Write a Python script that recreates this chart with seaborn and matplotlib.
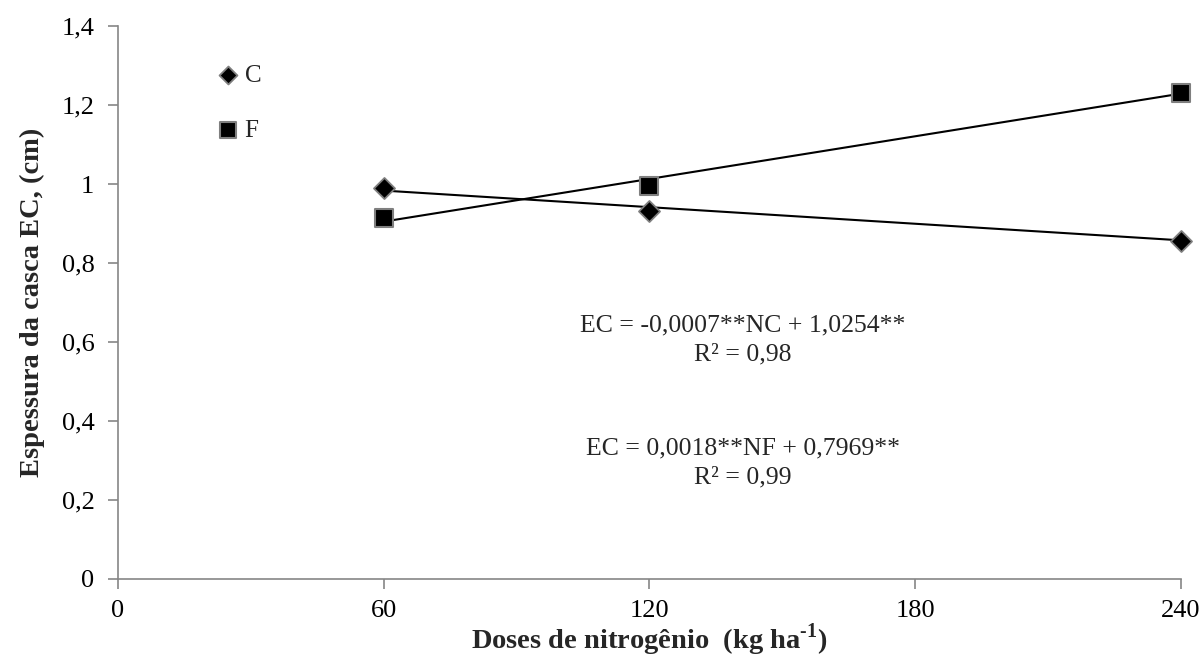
import numpy as np
import pandas as pd
import matplotlib
matplotlib.use("Agg")
import matplotlib.pyplot as plt
import seaborn as sns

# Nitrogen doses (kg/ha) and measured shell thickness for each source
doses = [60, 120, 240]
ec_c = [0.99, 0.932, 0.856]
ec_f = [0.914, 0.995, 1.230]

# Linear trend coefficients (slope, intercept)
coef_c = (-0.0007, 1.0254)
coef_f = (0.0018, 0.7969)

x_ticks = [0, 60, 120, 180, 240]
y_ticks = [0, 0.2, 0.4, 0.6, 0.8, 1.0, 1.2, 1.4]
y_labels = ["0", "0,2", "0,4", "0,6", "0,8", "1", "1,2", "1,4"]

sns.set_theme(style="white")
plt.rcParams["font.family"] = ["Liberation Serif", "DejaVu Serif"]
plt.rcParams["mathtext.fontset"] = "custom"
plt.rcParams["mathtext.rm"] = "Liberation Serif:bold"
plt.rcParams["mathtext.bf"] = "Liberation Serif:bold"

fig = plt.figure(figsize=(12.03, 6.59), dpi=100)
ax = fig.add_axes([0.0981, 0.1214, 0.8836, 0.8391])

spine_col = "#868686"
edge_col = "#7f7f7f"

# Trend lines from the fitted equations
span = np.array([doses[0], doses[-1]])
trend = pd.DataFrame({
    "x": np.concatenate([span, span]),
    "y": np.concatenate([coef_c[0] * span + coef_c[1], coef_f[0] * span + coef_f[1]]),
    "s": ["C", "C", "F", "F"],
})
for s in ["C", "F"]:
    sub = trend[trend.s == s]
    sns.lineplot(data=sub, x="x", y="y", color="black", linewidth=1.5, ax=ax,
                 legend=False)

# Observed points
sns.scatterplot(x=doses, y=ec_c, marker="D", s=115, color="black",
                edgecolor=edge_col, linewidth=1.3, ax=ax, label="C", zorder=5,
                clip_on=False)
sns.scatterplot(x=doses, y=ec_f, marker="s", s=165, color="black",
                edgecolor=edge_col, linewidth=1.5, ax=ax, label="F", zorder=5,
                clip_on=False)

ax.set_xlim(0, 240)
ax.set_ylim(0, 1.4)
ax.set_xticks(x_ticks)
ax.set_xticklabels([str(t) for t in x_ticks])
ax.set_yticks(y_ticks)
ax.set_yticklabels(y_labels)

for side in ["top", "right"]:
    ax.spines[side].set_visible(False)
for side in ["left", "bottom"]:
    ax.spines[side].set_color(spine_col)
    ax.spines[side].set_linewidth(1.2)

ax.tick_params(axis="both", which="major", direction="out", length=7,
               width=1.2, color=spine_col, labelsize=19, labelcolor="black",
               left=True, bottom=True)
ax.tick_params(axis="x", pad=8)
ax.tick_params(axis="y", pad=10)

ax.set_xlabel(r"Doses de nitrogênio  (kg ha$^{\text{-1}}$)", fontsize=20.5,
              fontweight="bold", labelpad=0)
ax.set_ylabel("Espessura da casca EC, (cm)", fontsize=20.5, fontweight="bold",
              labelpad=12)

leg = ax.legend(loc="center left", bbox_to_anchor=(0.092, 0.861), frameon=False,
                fontsize=18, handlelength=1.0, handletextpad=0.15,
                labelspacing=1.3, borderaxespad=0, borderpad=0,
                markerscale=0.85)

ax.text(141, 0.605, "EC = -0,0007**NC + 1,0254**\nR² = 0,98", ha="center",
        va="center", fontsize=18.5, linespacing=1.45)
ax.text(141, 0.294, "EC = 0,0018**NF + 0,7969**\nR² = 0,99", ha="center",
        va="center", fontsize=18.5, linespacing=1.45)

fig.savefig("out.png", dpi=100, facecolor="white")
